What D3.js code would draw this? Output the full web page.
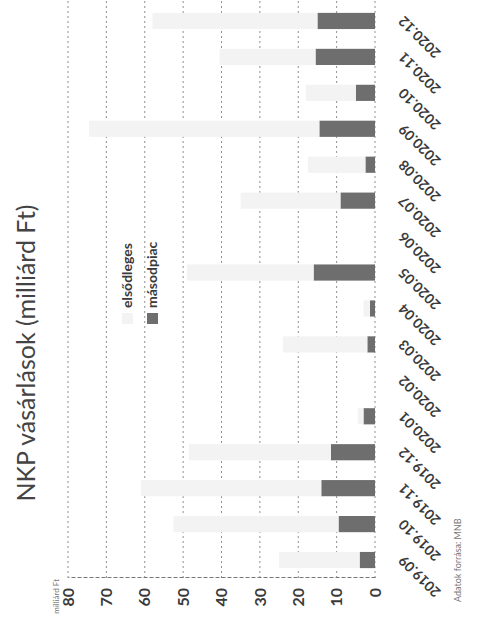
<!DOCTYPE html>
<html>
  <head>
    <meta charset="utf-8" />
    <title>NKP vásárlások</title>
    <script src="https://d3js.org/d3.v7.min.js"></script>
    <style>
      body { margin: 0; background: #fff; }
      svg { display: block; }
    </style>
  </head>
  <body>
    <svg id="chart"></svg>
    <script>
      var months = ["2019.09", "2019.10", "2019.11", "2019.12", "2020.01", "2020.02",
        "2020.03", "2020.04", "2020.05", "2020.06", "2020.07", "2020.08",
        "2020.09", "2020.10", "2020.11", "2020.12"];
      var masodpiac = [4, 9.5, 14, 11.5, 3, 0, 2, 1.3, 16, 0, 9, 2.5, 14.5, 5, 15.5, 15];
      var elsodleges = [21, 43, 47, 37, 1.5, 0, 22, 1.7, 33, 0, 26, 15, 60, 13, 25, 43];
      var yTicks = [0, 10, 20, 30, 40, 50, 60, 70, 80];

      var W = 479, H = 635;
      var font = "Lato, 'Open Sans', sans-serif";

      var svg = d3.select("#chart").attr("width", W).attr("height", H);

      // whole chart is drawn upright and then turned 90 degrees
      var g = svg.append("g").attr("transform", "translate(0," + H + ") rotate(-90)");

      var rows = months.map(function (m, i) {
        return { month: m, masodpiac: masodpiac[i], elsodleges: elsodleges[i] };
      });
      var series = d3.stack().keys(["masodpiac", "elsodleges"])(rows);

      var x = d3.scaleBand().domain(months).range([57, 632])
        .paddingInner(0.55).paddingOuter(0.275);
      var y = d3.scaleLinear().domain([0, 80]).range([375, 68]);
      var color = { masodpiac: "#6e6e6e", elsodleges: "#f3f3f3" };

      // grid
      g.append("g")
        .selectAll("line")
        .data(yTicks)
        .enter()
        .append("line")
        .attr("x1", 57)
        .attr("x2", H)
        .attr("y1", function (d) { return y(d); })
        .attr("y2", function (d) { return y(d); })
        .attr("stroke", "#8f8f8f")
        .attr("stroke-width", 1)
        .attr("stroke-dasharray", "2,3");

      // bars
      g.append("g")
        .selectAll("g")
        .data(series)
        .enter()
        .append("g")
        .attr("fill", function (s) { return color[s.key]; })
        .selectAll("rect")
        .data(function (s) { return s; })
        .enter()
        .append("rect")
        .attr("x", function (d) { return x(d.data.month); })
        .attr("width", x.bandwidth())
        .attr("y", function (d) { return y(d[1]); })
        .attr("height", function (d) { return y(d[0]) - y(d[1]); });

      // value axis
      var yAxis = g.append("g")
        .attr("transform", "translate(57,0)")
        .call(d3.axisLeft(y).tickValues(yTicks).tickSize(0).tickPadding(10));
      yAxis.select(".domain").attr("stroke", "#777").attr("stroke-dasharray", "4,2");
      yAxis.selectAll("text")
        .attr("font-family", font)
        .attr("font-size", 16)
        .attr("font-weight", "bold")
        .attr("fill", "#3a3a3a");

      // category axis
      var xAxis = g.append("g")
        .attr("transform", "translate(0,378)")
        .call(d3.axisBottom(x).tickSize(0));
      xAxis.select(".domain").remove();
      xAxis.selectAll("text")
        .attr("font-family", font)
        .attr("font-size", 14)
        .attr("font-weight", "bold")
        .attr("fill", "#3a3a3a")
        .attr("text-anchor", "end")
        .attr("dy", "0.35em")
        .attr("transform", "translate(0,21) rotate(-45)");

      // unit label
      g.append("text")
        .attr("x", 56)
        .attr("y", 59)
        .attr("text-anchor", "end")
        .attr("font-family", font)
        .attr("font-size", 8)
        .attr("fill", "#777")
        .text("milliárd Ft");

      // title
      g.append("text")
        .attr("x", 282)
        .attr("y", 35)
        .attr("text-anchor", "middle")
        .attr("font-family", font)
        .attr("font-size", 25)
        .attr("fill", "#444")
        .text("NKP vásárlások (milliárd Ft)");

      // legend
      var legend = [
        { key: "elsodleges", label: "elsődleges", y: 132 },
        { key: "masodpiac", label: "másodpiac", y: 157 }
      ];
      var lg = g.append("g");
      lg.selectAll("rect")
        .data(legend)
        .enter()
        .append("rect")
        .attr("x", 311)
        .attr("y", function (d) { return d.y - 10; })
        .attr("width", 11)
        .attr("height", 11)
        .attr("fill", function (d) { return color[d.key]; });
      lg.selectAll("text")
        .data(legend)
        .enter()
        .append("text")
        .attr("x", 327)
        .attr("y", function (d) { return d.y; })
        .attr("font-family", font)
        .attr("font-size", 14)
        .attr("font-weight", "bold")
        .attr("fill", "#3a3a3a")
        .text(function (d) { return d.label; });

      // source
      g.append("text")
        .attr("x", 33)
        .attr("y", 461)
        .attr("font-family", font)
        .attr("font-size", 9)
        .attr("fill", "#777")
        .text("Adatok forrása: MNB");
    </script>
  </body>
</html>
